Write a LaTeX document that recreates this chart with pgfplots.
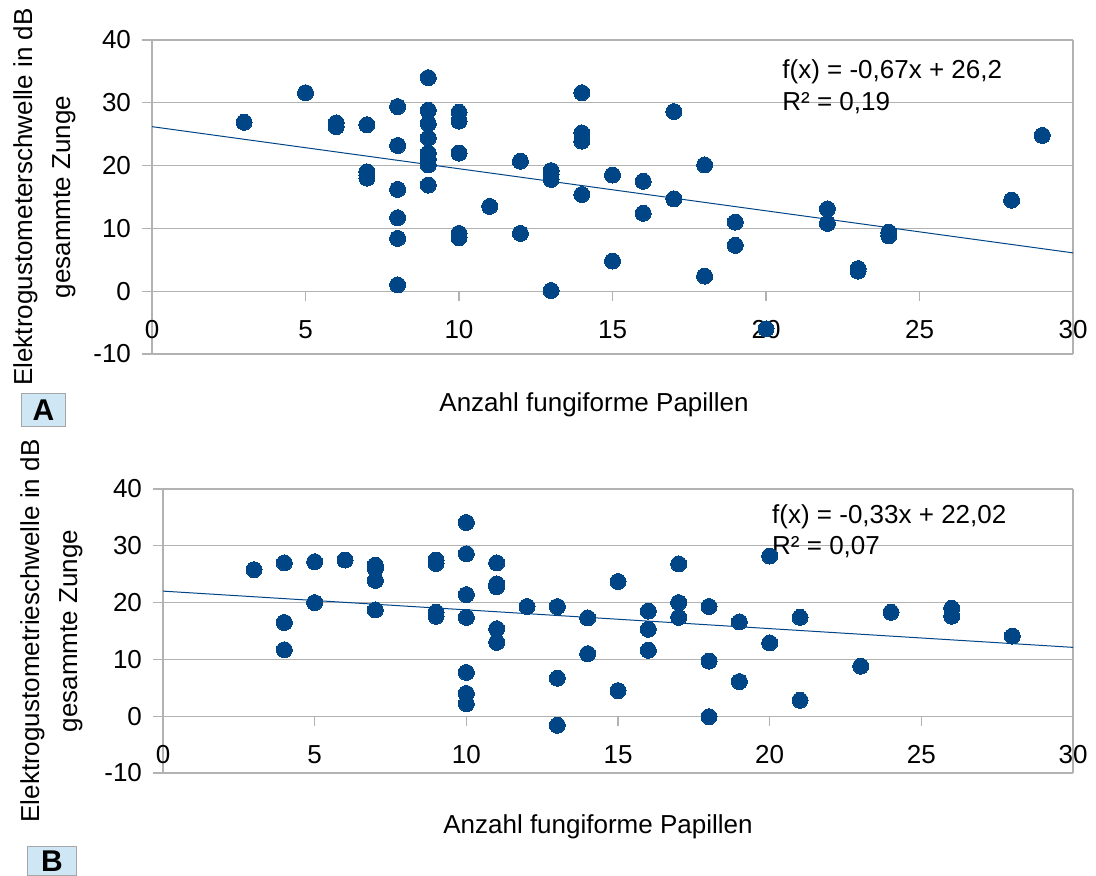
\documentclass[border=0pt]{standalone}
\usepackage{fontspec}
\setmainfont{Liberation Sans}
\usepackage{pgfplots}
\pgfplotsset{compat=1.18}
\definecolor{lo}{HTML}{004586}
\definecolor{tagfill}{HTML}{CFE6F5}

\pgfplotsset{
  panel/.style={
    scale only axis,
    xmin=0, xmax=30, ymin=-10, ymax=40,
    xtick={0,5,...,30}, ytick={-10,0,...,40},
    axis x line=middle, axis y line=box,
    ytick pos=left,
    hide obscured x ticks=false, hide obscured y ticks=false,
    axis line style={-, draw=gray!60, line width=0.6pt},
    every inner x axis line/.append style={-},
    tick align=outside, major tick length=5pt,
    tick style={draw=gray!60, line width=0.6pt},
    ymajorgrids, grid style={gray!60, line width=0.6pt},
    /pgf/number format/assume math mode=true,
    tick label style={font=\fontsize{13}{15}\selectfont, text=black},
    xticklabel style={anchor=north, yshift=-6pt},
    yticklabel style={anchor=east, xshift=-2pt},
    ylabel style={font=\fontsize{13}{19}\selectfont, align=center, inner sep=0pt, anchor=north},
    xlabel style={font=\fontsize{13}{15}\selectfont, anchor=base, inner sep=0pt},
  },
  pts/.style={only marks, mark=*, mark size=4pt, color=lo, mark options={fill=lo, draw=lo, line width=0pt}},
  fit/.style={no marks, color=lo, line width=0.5pt},
}

\begin{document}
\begin{tikzpicture}
\useasboundingbox (0,0) rectangle (548pt,-438pt);

% panel A
\begin{axis}[panel,
  width=460.5pt, height=157pt,
  at={(76pt,-20pt)}, anchor=north west,
  ylabel={Elektrogustometerschwelle in dB\\gesammte Zunge},
  ylabel style={at={([xshift=-69.5pt]rel axis cs:0,0.5)}},
  xlabel={Anzahl fungiforme Papillen},
  xlabel style={at={([yshift=-28.9pt]rel axis cs:0.48,0)}},
]
\addplot[pts] coordinates {
(3,26.9) (5,31.6) (6,26.8) (6,26.2)
(7,26.5) (7,19.0) (7,18.5) (7,18.0)
(8,29.4) (8,23.2) (8,16.2) (8,11.7) (8,8.4) (8,1.0)
(9,34.0) (9,28.8) (9,26.7) (9,24.4) (9,22.0) (9,21.0) (9,20.1) (9,16.9)
(10,28.5) (10,27.1) (10,22.0) (10,9.2) (10,8.5)
(11,13.5) (12,20.7) (12,9.2)
(13,19.2) (13,18.6) (13,17.8) (13,0.1)
(14,31.6) (14,25.2) (14,23.9) (14,15.4)
(15,18.5) (15,4.8) (16,17.5) (16,12.4)
(17,28.6) (17,14.7) (18,20.1) (18,2.4)
(19,11.0) (19,7.3) (20,-6.0)
(22,13.1) (22,10.8) (23,3.6) (23,3.2)
(24,9.4) (24,8.8) (28,14.5) (29,24.8)
};
\addplot[fit] coordinates {(0,26.2) (30,6.1)};
\node[anchor=base west, inner sep=0pt, font=\fontsize{13}{15}\selectfont] at (rel axis cs:0.684,0.876) {f(x) = -0,67x + 26,2};
\node[anchor=base west, inner sep=0pt, font=\fontsize{13}{15}\selectfont] at (rel axis cs:0.684,0.775) {R² = 0,19};
\end{axis}

% panel B
\begin{axis}[panel,
  width=455pt, height=142pt,
  at={(81.5pt,-244.5pt)}, anchor=north west,
  ylabel={Elektrogustometrieschwelle in dB\\gesammte Zunge},
  ylabel style={at={([xshift=-71.5pt]rel axis cs:0,0.5)}},
  xlabel={Anzahl fungiforme Papillen},
  xlabel style={at={([yshift=-30pt]rel axis cs:0.478,0)}},
]
\addplot[pts] coordinates {
(3,25.8) (4,27.0) (4,16.5) (4,11.7)
(5,27.2) (5,20.0) (6,27.5)
(7,26.6) (7,26.0) (7,23.9) (7,18.7)
(9,27.5) (9,26.9) (9,18.3) (9,17.6)
(10,34.1) (10,28.6) (10,21.4) (10,17.4) (10,7.7) (10,4.0) (10,2.2)
(11,27.0) (11,23.3) (11,22.8) (11,15.4) (11,13.0)
(12,19.3) (13,19.3) (13,6.7) (13,-1.6)
(14,17.3) (14,11.0) (15,23.7) (15,4.5)
(16,18.5) (16,15.3) (16,11.6)
(17,26.8) (17,20.0) (17,17.4)
(18,19.3) (18,9.7) (18,-0.1)
(19,16.6) (19,6.1) (20,28.2) (20,12.9)
(21,17.4) (21,2.8) (23,8.8) (24,18.3)
(26,19.0) (26,17.6) (28,14.1)
};
\addplot[fit] coordinates {(0,22.02) (30,12.12)};
\node[anchor=base west, inner sep=0pt, font=\fontsize{13}{15}\selectfont] at (rel axis cs:0.669,0.880) {f(x) = -0,33x + 22,02};
\node[anchor=base west, inner sep=0pt, font=\fontsize{13}{15}\selectfont] at (rel axis cs:0.669,0.768) {R² = 0,07};
\end{axis}

% panel tags
\node[draw=gray!70, fill=tagfill, minimum width=22pt, minimum height=16.5pt, inner sep=0pt, anchor=north west,
      font=\fontsize{15}{17}\selectfont\bfseries] at (10.5pt,-196.5pt) {A};
\node[draw=gray!70, fill=tagfill, minimum width=24.5pt, minimum height=14.6pt, inner sep=0pt, anchor=north west,
      font=\fontsize{15}{17}\selectfont\bfseries] at (13.5pt,-423pt) {B};
\end{tikzpicture}
\end{document}
